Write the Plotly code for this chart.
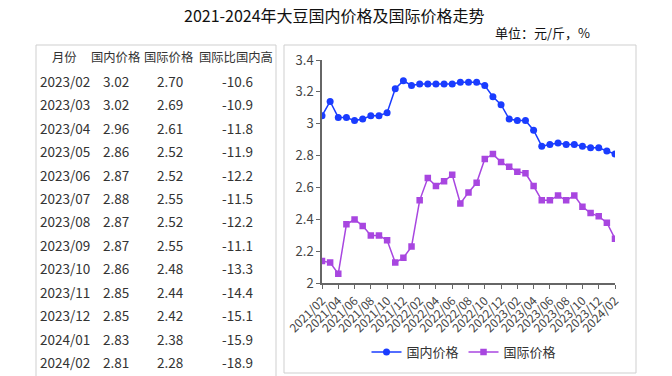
import plotly.graph_objects as go

W, H = 672, 376

months = ["2021/02","2021/03","2021/04","2021/05","2021/06","2021/07","2021/08","2021/09","2021/10","2021/11","2021/12",
          "2022/01","2022/02","2022/03","2022/04","2022/05","2022/06","2022/07","2022/08","2022/09","2022/10","2022/11","2022/12",
          "2023/01","2023/02","2023/03","2023/04","2023/05","2023/06","2023/07","2023/08","2023/09","2023/10","2023/11","2023/12",
          "2024/01","2024/02"]
domestic = [3.05,3.14,3.04,3.04,3.02,3.03,3.05,3.05,3.07,3.22,3.27,3.24,3.25,3.25,3.25,3.25,3.25,3.26,3.26,3.26,
            3.24,3.17,3.12,3.03,3.02,3.02,2.96,2.86,2.87,2.88,2.87,2.87,2.86,2.85,2.85,2.83,2.81]
international = [2.14,2.13,2.06,2.37,2.40,2.36,2.30,2.30,2.27,2.13,2.16,2.23,2.52,2.66,2.61,2.64,2.68,2.50,2.57,2.63,
                 2.78,2.81,2.76,2.73,2.70,2.69,2.61,2.52,2.52,2.55,2.52,2.55,2.48,2.44,2.42,2.38,2.28]

table_header = ["月份", "国内价格", "国际价格", "国际比国内高"]
table_months = ["2023/02","2023/03","2023/04","2023/05","2023/06","2023/07","2023/08","2023/09","2023/10","2023/11","2023/12","2024/01","2024/02"]
table_domestic = ["3.02","3.02","2.96","2.86","2.87","2.88","2.87","2.87","2.86","2.85","2.85","2.83","2.81"]
table_international = ["2.70","2.69","2.61","2.52","2.52","2.55","2.52","2.55","2.48","2.44","2.42","2.38","2.28"]
table_diff = ["-10.6","-10.9","-11.8","-11.9","-12.2","-11.5","-12.2","-11.1","-13.3","-14.4","-15.1","-15.9","-18.9"]

title = "2021-2024年大豆国内价格及国际价格走势"
unit = "单位：元/斤，%"

BLUE = "#1a3cff"
PURPLE = "#a846e0"
FONT = "Noto Sans CJK SC"

def px(x):
    return x / W

def py(y):
    return 1 - y / H

fig = go.Figure()
fig.add_trace(go.Scatter(x=months, y=domestic, name="国内价格", mode="lines+markers",
                         line=dict(color=BLUE, width=1.5), marker=dict(symbol="circle", size=7, color=BLUE)))
fig.add_trace(go.Scatter(x=months, y=international, name="国际价格", mode="lines+markers",
                         line=dict(color=PURPLE, width=1.5), marker=dict(symbol="square", size=6.5, color=PURPLE)))

annotations = [
    dict(text=title, x=px(334), y=py(15), xref="paper", yref="paper", showarrow=False,
         xanchor="center", yanchor="middle", font=dict(family=FONT, size=16, color="#111")),
    dict(text=unit, x=px(592), y=py(33), xref="paper", yref="paper", showarrow=False,
         xanchor="right", yanchor="middle", font=dict(family=FONT, size=13, color="#111")),
]

hdr_x = [64, 116, 169, 236]
for t, xx in zip(table_header, hdr_x):
    annotations.append(dict(text=t, x=px(xx), y=py(57), xref="paper", yref="paper", showarrow=False,
                            xanchor="center", yanchor="middle", font=dict(family=FONT, size=12.3, color="#333")))
row_y0, row_dy = 80.7, 23.45
for k in range(len(table_months)):
    yy = py(row_y0 + k * row_dy)
    annotations.append(dict(text=table_months[k], x=px(38), y=yy, xref="paper", yref="paper", showarrow=False,
                            xanchor="left", yanchor="middle", font=dict(family=FONT, size=13.5, color="#333")))
    for col, xx in ((table_domestic, 116), (table_international, 170), (table_diff, 237)):
        annotations.append(dict(text=col[k], x=px(xx), y=yy, xref="paper", yref="paper", showarrow=False,
                                xanchor="center", yanchor="middle", font=dict(family=FONT, size=13.5, color="#333")))

shapes = [
    dict(type="rect", xref="paper", yref="paper", x0=px(36), x1=px(276), y0=py(380), y1=py(45),
         line=dict(color="#cfcfcf", width=1)),
    dict(type="rect", xref="paper", yref="paper", x0=px(284), x1=px(636), y0=py(373), y1=py(45),
         line=dict(color="#cfcfcf", width=1)),
]

fig.update_layout(
    template=None,
    width=W, height=H, margin=dict(l=0, r=0, t=0, b=0, pad=0, autoexpand=False),
    paper_bgcolor="white", plot_bgcolor="white",
    font=dict(family=FONT, color="#333"),
    showlegend=True,
    legend=dict(orientation="h", x=px(464), y=py(352), xanchor="center", yanchor="middle", itemwidth=30,
                font=dict(family=FONT, size=13, color="#333"), bgcolor="rgba(0,0,0,0)"),
    annotations=annotations, shapes=shapes,
    xaxis=dict(domain=[px(322), px(615)], type="category", range=[0, len(months) - 1], automargin=False,
               tickvals=months[::2], ticktext=months[::2], tickangle=-45,
               showline=True, linecolor="#666", linewidth=1.5, ticks="outside", ticklen=4, tickcolor="#666",
               showgrid=False, zeroline=False, tickfont=dict(family=FONT, size=12, color="#444")),
    yaxis=dict(domain=[py(283.3), py(60)], range=[2, 3.4], dtick=0.2, tick0=2, automargin=False,
               showline=True, linecolor="#666", linewidth=1.5, ticks="outside", ticklen=4, tickcolor="#666",
               showgrid=False, zeroline=False, tickfont=dict(family=FONT, size=13, color="#444")),
)

fig.write_html("out.html", config={"displayModeBar": False},
               post_script="document.body.style.margin='0';document.body.style.overflow='hidden';")
